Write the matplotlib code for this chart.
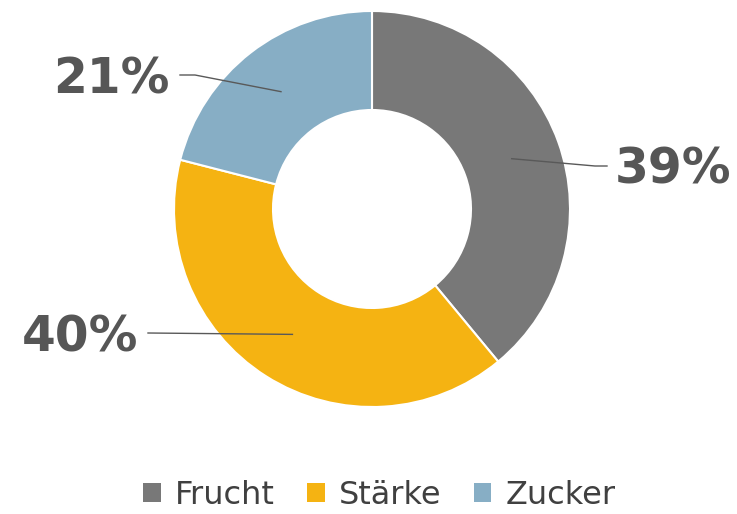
import numpy as np
import matplotlib
matplotlib.use("Agg")
import matplotlib.pyplot as plt

# data
categories = ["Frucht", "Stärke", "Zucker"]
shares = [39, 40, 21]
colors = ["#787878", "#F5B312", "#87AEC5"]

W, H = 737, 514
fig = plt.figure(figsize=(W / 100, H / 100), dpi=100)
ax = fig.add_axes([0, 0, 1, 1])

cx, cy, R = 372, H - 209, 198
wedges, _ = ax.pie(shares, colors=colors, startangle=90, counterclock=False,
                   center=(cx, cy), radius=R, frame=True,
                   wedgeprops=dict(width=R - 99, edgecolor="white", linewidth=1.5))

ax.set_xlim(0, W)
ax.set_ylim(0, H)
ax.set_aspect("equal")
ax.axis("off")

# label layout: (elbow x, elbow y, end x, text x, ha)
layout = [
    (595, H - 166, 607, 615, "left"),
    (148, H - 333, 148, 138, "right"),
    (195, H - 75, 180, 170, "right"),
]
txt_col = "#565656"
for w, val, (ex, ey, endx, tx, ha) in zip(wedges, shares, layout):
    ang = np.deg2rad((w.theta1 + w.theta2) / 2)
    ax_, ay_ = cx + 0.75 * R * np.cos(ang), cy + 0.75 * R * np.sin(ang)
    ax.plot([ax_, ex, endx], [ay_, ey, ey], color="#595959", lw=1)
    ax.text(tx, ey - 4, f"{val}%", ha=ha, va="center", fontsize=35,
            fontweight="bold", color=txt_col)

leg = ax.legend(wedges, categories, loc="lower center", bbox_to_anchor=(0.515, -0.05),
                ncol=3, frameon=False, fontsize=23, handlelength=0.55, handleheight=0.55,
                handletextpad=0.45, columnspacing=1.0)
for t in leg.get_texts():
    t.set_color("#404040")
for h in leg.legend_handles:
    h.set_edgecolor("none")

fig.savefig("out.png", dpi=100)
